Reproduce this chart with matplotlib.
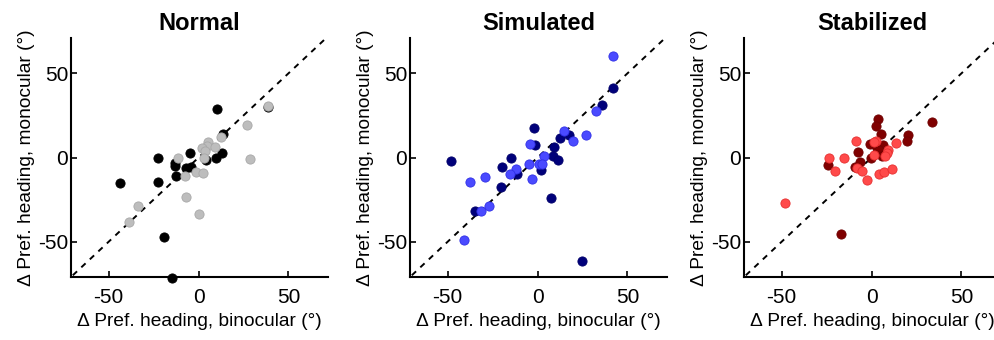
import matplotlib
matplotlib.use("Agg")
import matplotlib.pyplot as plt

plt.rcParams['font.family'] = ['Liberation Sans', 'DejaVu Sans']
plt.rcParams['axes.unicode_minus'] = False

titles = ["Normal", "Simulated", "Stabilized"]

normal_dark_x = [10.2, 38.7, 13.7, -4.6, -22.6, 13.1, 9.6, 4.1, -13.0, -13.1, -7.0, -4.4, -12.4, -44.0, -22.6, -19.4, -15.0]
normal_dark_y = [29.0, 30.0, 13.8, 2.6, 0.0, 2.4, -0.4, -1.4, -3.0, -4.8, -6.4, -5.8, -10.8, -15.2, -14.6, -47.0, -71.4]
normal_light_x = [38.7, 27.0, 12.4, 5.2, 4.6, 1.9, 9.4, 3.5, 2.8, -11.3, 28.7, -7.4, -1.5, 2.2, -6.9, 0.2, -33.7, -38.5]
normal_light_y = [30.4, 19.4, 12.4, 9.2, 6.6, 5.4, 6.2, 3.6, -0.4, 0.0, -1.0, -10.8, -8.8, -9.4, -23.4, -33.6, -29.0, -38.4]

sim_dark_x = [42.0, 35.9, 12.3, 17.3, 8.9, -2.2, -1.5, 8.7, 11.2, 2.0, -14.7, -19.7, -11.5, -20.6, -48.3, -34.8, 7.2, 24.5]
sim_dark_y = [41.2, 31.0, 11.4, 13.4, 6.0, 17.6, 7.6, 0.6, -1.4, -7.4, 0.0, -5.8, -9.8, -17.8, -1.8, -31.6, -23.8, -61.2]
sim_light_x = [41.8, 32.5, 14.5, 26.8, 19.9, -4.5, 3.5, 0.9, 2.6, -4.8, -12.1, -15.4, -3.0, -29.2, -37.7, -26.8, -31.6, -40.7]
sim_light_y = [60.6, 27.8, 16.0, 13.6, 10.0, 8.0, 0.6, -3.8, -3.8, -3.8, -6.6, -9.8, -12.6, -11.4, -14.4, -28.8, -31.8, -49.0]

stab_dark_x = [33.7, 3.5, 2.2, 5.2, 20.5, 19.9, -0.7, 2.8, 6.5, 4.1, -0.6, -7.8, -6.5, -9.3, -24.0, -16.8, 5.6]
stab_dark_y = [21.0, 22.6, 18.6, 13.8, 13.2, 10.0, 8.0, 5.6, 7.6, 4.6, 0.0, 3.2, -2.4, -5.8, -4.6, -45.2, 0.6]
stab_light_x = [-8.9, 2.6, 13.6, 1.3, 9.3, 8.4, 1.1, 7.6, -23.5, -15.5, -20.3, -8.0, -5.2, -2.6, 4.1, 7.1, 11.2, -48.0]
stab_light_y = [9.6, 10.0, 8.8, 9.0, 4.2, 2.4, 1.4, 0.6, 0.0, 0.0, -8.2, -6.2, -8.0, -13.2, -9.8, -8.8, -7.0, -27.2]

panels = [
    (normal_dark_x, normal_dark_y, normal_light_x, normal_light_y,
     ('#000000', '#000000'), ('#bdbdbd', '#a8a8a8')),
    (sim_dark_x, sim_dark_y, sim_light_x, sim_light_y,
     ('#00007a', '#00006a'), ('#4a4aff', '#2f2fe6')),
    (stab_dark_x, stab_dark_y, stab_light_x, stab_light_y,
     ('#7f0000', '#700000'), ('#ff4a4a', '#e62f2f')),
]

fig = plt.figure(figsize=(9.95, 3.4), dpi=100)
lefts = [71, 410, 744]
w = 257
for i, (dx, dy, lx, ly, dc, lc) in enumerate(panels):
    ax = fig.add_axes([lefts[i] / 995, 1 - 277 / 340, w / 995, (277 - 38) / 340])
    ax.plot([-70, 70], [-70, 70], 'k--', lw=1.4, dashes=(3, 3), zorder=1)
    ax.scatter(dx, dy, s=44, c=dc[0], edgecolors=dc[1], linewidths=0.6, zorder=2, clip_on=False)
    ax.scatter(lx, ly, s=44, c=lc[0], edgecolors=lc[1], linewidths=0.6, zorder=3, clip_on=False)
    ax.set_xlim(-71, 72)
    ax.set_ylim(-71, 71)
    ax.set_xticks([-50, 0, 50])
    ax.set_yticks([-50, 0, 50])
    ax.spines['top'].set_visible(False)
    ax.spines['right'].set_visible(False)
    ax.spines['left'].set_linewidth(1.5)
    ax.spines['bottom'].set_linewidth(1.5)
    ax.tick_params(direction='in', length=4, width=1.2, labelsize=15)
    ax.tick_params(axis='x', pad=8)
    ax.tick_params(axis='y', pad=2)
    ax.set_title(titles[i], fontsize=17, fontweight='bold', pad=6)
    ax.set_xlabel("Δ Pref. heading, binocular (°)", fontsize=13.8, labelpad=4)
    ax.set_ylabel("Δ Pref. heading, monocular (°)", fontsize=13.8, labelpad=2)

fig.savefig("out.png", dpi=100)
